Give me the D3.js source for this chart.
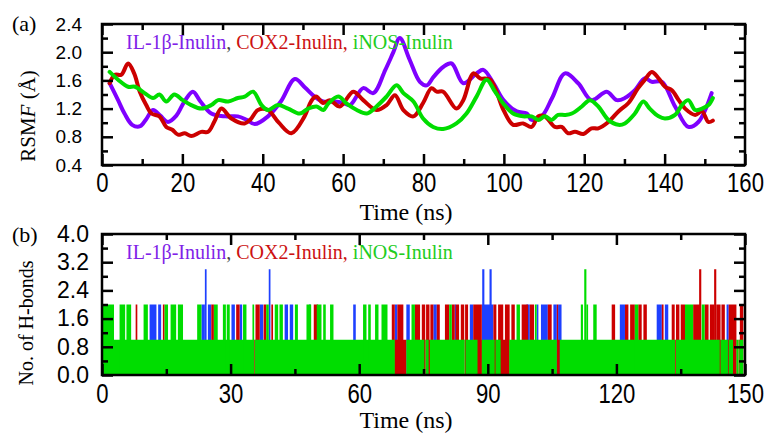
<!DOCTYPE html>
<html>
<head>
<meta charset="utf-8">
<script src="https://cdn.jsdelivr.net/npm/d3@7"></script>
<style>
  body { margin: 0; background: #fff; }
  svg { display: block; }
</style>
</head>
<body>
<svg id="chart"></svg>
<script>
const width = 766;
const height = 434;

// (a) RSMF curves, [time (ns), RSMF (Å)]
const ilRsmf = [[1.9,1.56],[4.0,1.32],[5.6,1.13],[7.5,0.97],[9.5,0.95],[11,1.05],[12.7,1.18],[14.5,1.1],[16.4,1.01],[18.5,1.1],[20.5,1.3],[22.6,1.44],[24.5,1.3],[27.2,1.13],[30.7,1.09],[33.8,1.09],[36,1.04],[38,0.98],[41.3,1.09],[44.5,1.3],[48,1.62],[50.5,1.5],[52.9,1.37],[55,1.3],[58,1.3],[60,1.28],[61.7,1.25],[65,1.49],[67.5,1.42],[70.5,1.75],[72.5,2.0],[74.1,2.2],[76.5,1.9],[79.1,1.58],[80.8,1.53],[82.5,1.65],[84.9,1.79],[87,1.84],[89.9,1.56],[93.2,1.70],[94.9,1.75],[97.5,1.55],[99.9,1.32],[103.2,1.16],[105.7,1.13],[106.9,1.04],[109.4,1.09],[112,1.35],[115.2,1.70],[118.5,1.56],[121.8,1.32],[125.6,1.44],[128.1,1.32],[130.1,1.35],[132.6,1.46],[135.1,1.63],[136.8,1.58],[139.3,1.58],[142.6,1.23],[145.9,0.94],[148.4,1.01],[151.7,1.42]];
const coxRsmf = [[1.9,1.56],[3.2,1.68],[4.8,1.68],[6.5,1.84],[8,1.7],[9.4,1.44],[11,1.25],[12.3,1.13],[14.3,1.09],[16,0.94],[17.5,0.9],[18.9,0.83],[20.6,0.85],[22.2,0.81],[24.7,0.87],[26.4,0.87],[28,1.02],[29.7,1.2],[32.2,1.06],[35.5,0.99],[37,1.05],[38.8,1.18],[41.3,1.18],[44,1.0],[47.1,0.85],[50.4,1.09],[52,1.3],[53.3,1.37],[55,1.28],[56.7,1.32],[59.2,1.23],[62.5,1.44],[65,1.32],[68.3,1.18],[70.8,1.25],[72.9,1.39],[75,1.18],[77.5,1.09],[79.9,1.28],[82,1.49],[83.3,1.44],[84.9,1.44],[88.2,1.2],[89.9,1.32],[92.4,1.70],[94.1,1.63],[96.6,1.61],[99.9,1.18],[102.3,0.97],[104.8,0.99],[106.9,0.94],[108.6,1.09],[110.2,1.09],[112.7,0.94],[114.4,0.94],[116,0.85],[117.7,0.87],[119.8,0.84],[121.8,0.92],[123.5,0.92],[126,1.01],[128.5,1.16],[131,1.28],[133.4,1.49],[135.1,1.61],[136.8,1.72],[138.5,1.63],[140.1,1.51],[141.8,1.46],[143.5,1.32],[145.1,1.2],[147.6,1.11],[149.3,1.16],[150.9,1.01],[152,1.03]];
const inosRsmf = [[1.9,1.72],[4,1.61],[6.5,1.51],[8.2,1.51],[10.6,1.42],[12.7,1.35],[14.3,1.40],[16,1.30],[18,1.40],[20.1,1.32],[22.2,1.25],[24.7,1.20],[27.2,1.25],[28.9,1.32],[31.4,1.30],[33.8,1.35],[35.5,1.37],[37.6,1.44],[39.7,1.25],[41.3,1.18],[43.8,1.25],[46.3,1.20],[49.2,1.13],[51.3,1.2],[53.4,1.23],[55.1,1.18],[56.3,1.27],[58.8,1.37],[60.9,1.27],[63.4,1.18],[65.9,1.13],[68.3,1.23],[70.8,1.37],[73.3,1.53],[75,1.42],[77.5,1.30],[79.9,1.06],[82.4,0.94],[84.9,0.91],[88.2,0.99],[90.7,1.13],[93.2,1.37],[95.7,1.61],[97.8,1.44],[99.9,1.27],[102.3,1.13],[104.8,1.09],[106.9,1.09],[108.6,1.04],[110.2,1.09],[111.9,1.04],[113.5,1.11],[115.2,1.11],[116.9,1.13],[119.4,1.23],[121.4,1.32],[123.5,1.23],[126,1.04],[128.5,0.97],[130.1,0.99],[132.6,1.13],[134.7,1.30],[136.3,1.20],[138.5,1.09],[140.1,1.06],[142.6,1.11],[144.3,1.25],[145.9,1.32],[147.6,1.18],[149.3,1.20],[150.9,1.25],[152,1.35]];

// (b) H-bond counts as runs, [start (ns), end (ns), count]
const ilHbonds = [[11.1,12.7,2],[13.1,13.8,2],[23.2,24.0,2],[24.0,24.4,3],[24.7,25.5,2],[30.2,31.0,2],[32.1,32.7,2],[36.8,37.6,2],[38.9,39.3,3],[42.6,43.4,2],[43.8,44.6,2],[48.3,48.7,2],[58.6,59.2,2],[68.3,68.9,2],[71.0,71.8,2],[77.3,78.1,2],[82.3,82.5,2],[85.8,86.6,2],[88.6,91.3,2],[88.7,89.2,3],[90.4,90.9,3],[99.0,99.8,2],[101.4,101.8,2],[102.4,104.0,2],[105.3,106.1,2],[106.4,107.2,2],[120.8,122.0,2],[129.4,130.6,2],[131.3,132.1,2],[145.7,146.2,2]];
const coxHbonds = [[7.85,8.24,2],[14.2,14.6,2],[25.5,26.1,2],[31.3,32.1,2],[35.5,35.7,1],[35.8,36.8,2],[37.7,38.3,2],[39.5,39.9,2],[49.4,50.4,2],[67.6,68.3,2],[68.3,71.0,1],[68.9,70.3,2],[73.0,74.2,2],[74.6,75.4,2],[75.2,75.5,1],[75.6,76.4,2],[76.2,76.5,1],[76.6,77.3,2],[78.1,78.8,2],[80.0,81.0,2],[81.6,82.3,2],[82.5,83.3,2],[83.7,84.5,2],[84.6,84.8,1],[84.7,85.4,2],[86.6,88.6,2],[87.6,88.6,1],[91.3,92.0,2],[91.6,91.8,1],[92.4,93.6,2],[93.0,95.0,1],[94.0,95.1,2],[95.5,96.3,2],[97.9,99.4,2],[99.8,100.8,2],[104.0,104.9,2],[106.1,106.4,2],[106.1,106.8,1],[118.9,119.7,2],[122.0,122.8,2],[123.2,124.3,2],[125.1,125.9,2],[126.3,127.1,2],[130.6,131.0,2],[132.9,133.6,2],[133.7,133.9,1],[133.9,134.7,2],[135.0,136.0,2],[137.9,139.5,2],[139.3,139.8,3],[140.6,141.5,2],[141.8,142.9,2],[142.8,143.3,3],[143.3,144.3,2],[144.1,144.3,1],[144.5,145.3,2],[146.0,146.2,1],[146.2,148.0,2],[147.2,148.0,1],[148.5,148.7,1],[148.8,149.6,2]];
const inosHbonds = [[0.2,35.5,1],[35.7,68.3,1],[71.0,75.2,1],[75.5,76.2,1],[76.5,84.6,1],[84.8,87.6,1],[88.6,91.6,1],[91.8,93.0,1],[95.0,106.1,1],[106.8,133.7,1],[133.9,144.1,1],[144.3,146.0,1],[146.2,147.2,1],[148.0,148.5,1],[148.7,149.6,1],[0.2,2.8,2],[4.1,5.4,2],[5.7,6.8,2],[9.7,10.7,2],[14.6,15.4,2],[16.0,17.3,2],[17.7,18.9,2],[22.2,23.2,2],[26.1,27.0,2],[28.2,28.9,2],[29.1,29.8,2],[32.9,33.7,2],[35.1,35.5,2],[38.3,38.9,2],[40.3,41.1,2],[41.4,42.2,2],[45.0,45.7,2],[47.7,48.8,2],[50.1,51.2,2],[51.6,52.2,2],[53.2,54.0,2],[60.9,61.7,2],[62.1,62.7,2],[63.7,64.5,2],[65.2,66.6,2],[72.2,73.0,2],[81.0,81.6,2],[96.7,97.5,2],[101.0,101.4,2],[111.7,112.2,2],[112.5,113.0,3],[113.0,113.4,2],[114.6,115.4,2],[124.3,125.1,2],[136.0,137.9,2],[139.9,140.6,2]];

const legendItems = ["IL-1β-Inulin", "COX2-Inulin", "iNOS-Inulin"];
const lineColors = ["#7f00ff", "#cc0000", "#00dd00"];
const barColors = ["#1e40ff", "#cc0000", "#00dd00"];
const textColors = ["#7f22e8", "#cc1111", "#22cc22"];

const svg = d3.select("#chart").attr("width", width).attr("height", height);
svg.append("rect").attr("width", width).attr("height", height).attr("fill", "#fff");

const sans = "'Liberation Sans', Arial, sans-serif";
const serif = "'Liberation Serif', 'Times New Roman', serif";

const boxA = { left: 102, right: 745, top: 24, bottom: 165 };
const boxB = { left: 102, right: 745, top: 234, bottom: 375 };

const xA = d3.scaleLinear().domain([0, 160]).range([boxA.left, boxA.right]);
const yA = d3.scaleLinear().domain([0.4, 2.4]).range([boxA.bottom, boxA.top]);
const xB = d3.scaleLinear().domain([0, 150]).range([boxB.left, boxB.right]);
const yB = d3.scaleLinear().domain([0, 4]).range([boxB.bottom, boxB.top]);

// inward ticks on all four sides
function ticksAround(box, x, y, xMajor, xMinor, yMajor, yMinor, opt) {
  const g = svg.append("g");
  const fmtY = d3.format(".1f");
  const bottomMajor = g.append("g").attr("transform", `translate(0,${box.bottom})`)
    .call(d3.axisBottom(x).tickValues(xMajor).tickSize(-11).tickPadding(opt.xPad).tickFormat(d3.format("d")));
  // x labels in the original are a narrow face, squeeze them
  bottomMajor.selectAll("text").style("font-family", sans).style("font-size", opt.xFont + "px")
    .attr("transform", "scale(0.82,1)");
  g.append("g").attr("transform", `translate(0,${box.bottom})`)
    .call(d3.axisBottom(x).tickValues(xMinor).tickSize(-6).tickFormat(""));
  g.append("g").attr("transform", `translate(0,${box.top})`)
    .call(d3.axisTop(x).tickValues(xMajor).tickSize(-11).tickFormat(""));
  g.append("g").attr("transform", `translate(0,${box.top})`)
    .call(d3.axisTop(x).tickValues(xMinor).tickSize(-6).tickFormat(""));
  const leftMajor = g.append("g").attr("transform", `translate(${box.left},0)`)
    .call(d3.axisLeft(y).tickValues(yMajor).tickSize(-11).tickPadding(opt.yPad).tickFormat(fmtY));
  leftMajor.selectAll("text").style("font-family", sans).style("font-size", opt.yFont + "px");
  g.append("g").attr("transform", `translate(${box.left},0)`)
    .call(d3.axisLeft(y).tickValues(yMinor).tickSize(-6).tickFormat(""));
  g.append("g").attr("transform", `translate(${box.right},0)`)
    .call(d3.axisRight(y).tickValues(yMajor).tickSize(-11).tickFormat(""));
  g.append("g").attr("transform", `translate(${box.right},0)`)
    .call(d3.axisRight(y).tickValues(yMinor).tickSize(-6).tickFormat(""));
  g.selectAll(".domain").remove();
  g.selectAll(".tick line").attr("stroke", "#000").attr("stroke-width", 2.5);
  g.selectAll(".tick text").attr("fill", "#000");
  svg.append("rect")
    .attr("x", box.left).attr("y", box.top)
    .attr("width", box.right - box.left).attr("height", box.bottom - box.top)
    .attr("fill", "none").attr("stroke", "#000").attr("stroke-width", 2.5);
}

// (a) lines
const plotA = svg.append("g");
const line = d3.line().x((d) => xA(d[0])).y((d) => yA(d[1])).curve(d3.curveCatmullRom.alpha(0.5));
[ilRsmf, coxRsmf, inosRsmf].forEach((s, i) => {
  plotA.append("path").datum(s)
    .attr("d", line)
    .attr("fill", "none")
    .attr("stroke", lineColors[i])
    .attr("stroke-width", 4)
    .attr("stroke-linejoin", "round")
    .attr("stroke-linecap", "round");
});

// (b) bars
const plotB = svg.append("g");
[ilHbonds, coxHbonds, inosHbonds].forEach((s, i) => {
  plotB.append("g").selectAll("rect")
    .data(s)
    .enter()
    .append("rect")
    .attr("x", (d) => xB(d[0]))
    .attr("width", (d) => Math.max(xB(d[1]) - xB(d[0]), 1.2))
    .attr("y", (d) => yB(d[2]))
    .attr("height", (d) => yB(0) - yB(d[2]))
    .attr("fill", barColors[i]);
});

ticksAround(boxA, xA, yA, d3.range(0, 161, 20), d3.range(10, 160, 20),
  d3.range(0.4, 2.41, 0.4), d3.range(0.6, 2.3, 0.4), { xPad: 8, yPad: 20, xFont: 27, yFont: 19 });
ticksAround(boxB, xB, yB, d3.range(0, 151, 30), d3.range(15, 150, 30),
  d3.range(0, 4.01, 0.8), d3.range(0.4, 3.7, 0.8), { xPad: 9, yPad: 13, xFont: 27, yFont: 23 });

// legends
function legend(yBase) {
  const t = svg.append("text").attr("x", 126).attr("y", yBase)
    .style("font-family", serif).style("font-size", "20px");
  t.append("tspan").attr("fill", textColors[0]).text(legendItems[0]);
  t.append("tspan").attr("fill", "#444").text(", ");
  t.append("tspan").attr("fill", textColors[1]).text(legendItems[1] + ", ");
  t.append("tspan").attr("fill", textColors[2]).text(legendItems[2]);
}
legend(49);
legend(259);

// panel labels and axis titles
svg.append("text").attr("x", 12).attr("y", 31).text("(a)")
  .style("font-family", serif).style("font-size", "22px");
svg.append("text").attr("x", 12).attr("y", 242).text("(b)")
  .style("font-family", serif).style("font-size", "22px");

svg.append("text").attr("x", 406).attr("y", 220).attr("text-anchor", "middle")
  .style("font-family", serif).style("font-size", "24px").text("Time (ns)");
svg.append("text").attr("x", 406).attr("y", 428).attr("text-anchor", "middle")
  .style("font-family", serif).style("font-size", "24px").text("Time (ns)");

const yTitleA = svg.append("text")
  .attr("transform", "translate(35,116) rotate(-90)")
  .attr("text-anchor", "middle")
  .style("font-family", serif).style("font-size", "21px");
yTitleA.append("tspan").text("RSM");
yTitleA.append("tspan").style("font-style", "italic").text("F");
yTitleA.append("tspan").text(" (Å)");

svg.append("text")
  .attr("transform", "translate(33,323) rotate(-90)")
  .attr("text-anchor", "middle")
  .style("font-family", serif).style("font-size", "20px")
  .text("No. of H-bonds");
</script>
</body>
</html>
